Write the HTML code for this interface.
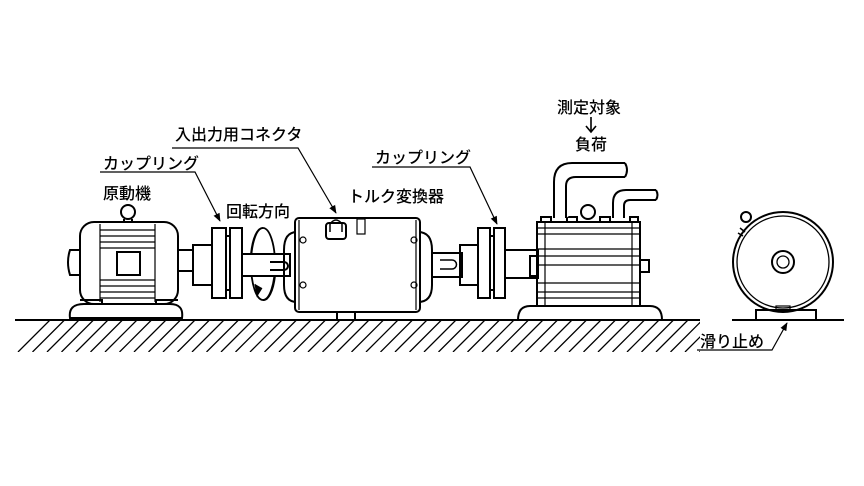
<!DOCTYPE html>
<html><head><meta charset="utf-8"><style>
html,body{margin:0;padding:0;background:#fff}
svg{display:block}
text{font-family:"Liberation Sans","Noto Sans CJK JP",sans-serif;font-size:16px;font-weight:500;fill:#000}
</style></head><body>
<svg width="864" height="486" viewBox="0 0 864 486" xmlns="http://www.w3.org/2000/svg">
<defs>
<marker id="ah" viewBox="0 0 10 10" refX="9" refY="5" markerWidth="7" markerHeight="7" orient="auto"><path d="M0,1 L10,5 L0,9 z" fill="#000"/></marker>
<clipPath id="gc"><rect x="15" y="320" width="685" height="32"/></clipPath>
</defs>
<g stroke="#000" fill="none" stroke-width="2">
<line x1="15" y1="320" x2="700" y2="320"/>
<g clip-path="url(#gc)" stroke-width="1.3">
<path d="M50,320 l-32,32 M64.5,320 l-32,32 M79,320 l-32,32 M93.5,320 l-32,32 M108,320 l-32,32 M122.5,320 l-32,32 M137,320 l-32,32 M151.5,320 l-32,32 M166,320 l-32,32 M180.5,320 l-32,32 M195,320 l-32,32 M209.5,320 l-32,32 M224,320 l-32,32 M238.5,320 l-32,32 M253,320 l-32,32 M267.5,320 l-32,32 M282,320 l-32,32 M296.5,320 l-32,32 M311,320 l-32,32 M325.5,320 l-32,32 M340,320 l-32,32 M354.5,320 l-32,32 M369,320 l-32,32 M383.5,320 l-32,32 M398,320 l-32,32 M412.5,320 l-32,32 M427,320 l-32,32 M441.5,320 l-32,32 M456,320 l-32,32 M470.5,320 l-32,32 M485,320 l-32,32 M499.5,320 l-32,32 M514,320 l-32,32 M528.5,320 l-32,32 M543,320 l-32,32 M557.5,320 l-32,32 M572,320 l-32,32 M586.5,320 l-32,32 M601,320 l-32,32 M615.5,320 l-32,32 M630,320 l-32,32 M644.5,320 l-32,32 M659,320 l-32,32 M673.5,320 l-32,32 M688,320 l-32,32 M702.5,320 l-32,32 M717,320 l-32,32 M731.5,320 l-32,32"/>
</g>
<line x1="732" y1="320" x2="844" y2="320"/>

<path d="M70,318 Q68,304 84,304 L170,304 Q184,304 182,318 Z"/>
<rect x="80" y="222" width="98" height="82" rx="14"/>
<path d="M80,250 L70,250 Q66,262 70,275 L80,275"/>
<rect x="178" y="250" width="15" height="21"/>
<g stroke-width="1.2"><path d="M100,224 V302 M155,224 V302 M100,230 H155 M100,236 H155 M100,242 H155 M100,248 H155 M100,280 H155 M100,286 H155 M100,292 H155 M100,298 H155"/></g>
<rect x="117" y="252" width="23" height="23"/>
<circle cx="128" cy="212" r="7"/>
<path d="M124,219 V222 M132,219 V222"/>
<path d="M80,300 h22 v4 M178,300 h-22 v4"/>

<ellipse cx="263" cy="264" rx="12" ry="36" stroke-width="1.8"/>
<path d="M255,284 l2,12 l5,-8" fill="#000" stroke-width="1"/>
<rect x="193" y="245" width="19" height="40" fill="#fff"/>
<rect x="212" y="228" width="14" height="70" fill="#fff"/>
<rect x="230" y="228" width="12" height="70" fill="#fff"/>
<path d="M226,236 H230 M226,290 H230"/>
<rect x="242" y="254" width="48" height="22" fill="#fff"/>
<path d="M270,262 h14 a4,4 0 0 1 0,8 h-14"/>
<path d="M251,254 A12,36 0 0 1 263,228 M263,300 A12,36 0 0 0 275,276" stroke-width="1.8"/>

<path d="M297,232 Q284,232 284,250 L284,285 Q284,302 297,302"/>
<path d="M418,232 Q432,232 432,250 L432,285 Q432,302 418,302"/>
<rect x="295" y="218" width="125" height="94" rx="4" fill="#fff"/>
<path d="M299,220 V310 M416,220 V310" stroke-width="1.2"/>
<circle cx="303" cy="240" r="3" stroke-width="1.2"/><circle cx="303" cy="285" r="3" stroke-width="1.2"/>
<circle cx="414" cy="240" r="3" stroke-width="1.2"/><circle cx="414" cy="285" r="3" stroke-width="1.2"/>
<rect x="326" y="223" width="20" height="16" rx="3"/>
<path d="M330,232 V224 Q336,216 342,224 V232" stroke-width="1.5"/>
<rect x="357" y="219" width="8" height="15" stroke-width="1.2"/>
<rect x="337" y="312" width="18" height="8"/>

<rect x="432" y="253" width="30" height="24"/>
<path d="M440,260 h12 a4,4 0 0 1 0,9 h-12" stroke-width="1.5"/>
<rect x="460" y="245" width="18" height="40"/>
<rect x="478" y="228" width="12" height="70"/>
<rect x="494" y="228" width="11" height="70"/>
<path d="M490,236 H494 M490,290 H494"/>
<rect x="505" y="250" width="33" height="28"/>

<path d="M518,320 Q518,306 530,306 L650,306 Q662,306 662,320 Z"/>
<rect x="537" y="222" width="103" height="84"/>
<rect x="530" y="256" width="7" height="20"/>
<rect x="640" y="260" width="9" height="12"/>
<g stroke-width="1.2"><path d="M537,228 H640 M537,234 H640 M537,249 H640 M537,256 H640 M537,265 H640 M537,283 H640 M537,292 H640 M537,298 H640 M545,222 V306 M632,222 V306"/></g>
<path d="M541,222 v-5 h10 v5 M567,222 v-5 h10 v5 M600,222 v-5 h10 v5 M630,222 v-5 h8 v5"/>
<path d="M554,218 V182 Q554,163 572,163 H625 M566,218 V186 Q566,177 576,177 H625" fill="#fff"/>
<path d="M625,163 q4,7 0,14" />
<path d="M613,218 V203 Q613,190 626,190 H656 M624,218 V206 Q624,200 630,200 H656" fill="#fff"/>
<path d="M656,190 q3,5 0,10"/>
<circle cx="588" cy="212" r="7" fill="#fff"/>

<circle cx="783" cy="262" r="50"/>
<circle cx="783" cy="262" r="46" stroke-width="1.3"/>
<circle cx="783" cy="262" r="11"/>
<circle cx="783" cy="262" r="6" stroke-width="1.3"/>
<circle cx="746" cy="217" r="5"/>
<path d="M740,228 l5,4 M738,233 l5,3" stroke-width="1.5"/>
<rect x="756" y="310" width="60" height="10"/>
<rect x="776" y="306" width="14" height="4" stroke-width="1.2"/>

<g stroke-width="1.2">
<path d="M172,148 H298 L336,213" marker-end="url(#ah)"/>
<path d="M100,172 H195 L220,221" marker-end="url(#ah)"/>
<path d="M372,167 H470 L497,224" marker-end="url(#ah)"/>
<path d="M697,350 H772 L787,323" marker-end="url(#ah)"/>
</g>
<path d="M591,117 V132 M586,126 L591,132 L596,126" stroke-width="1.6"/>
</g>
<text x="175" y="140">入出力用コネクタ</text>
<text x="103" y="169">カップリング</text>
<text x="103" y="199">原動機</text>
<text x="226" y="217">回転方向</text>
<text x="348" y="202">トルク変換器</text>
<text x="375" y="163">カップリング</text>
<text x="557" y="113">測定対象</text>
<text x="575" y="150">負荷</text>
<text x="700" y="347">滑り止め</text>
</svg>
</body></html>
